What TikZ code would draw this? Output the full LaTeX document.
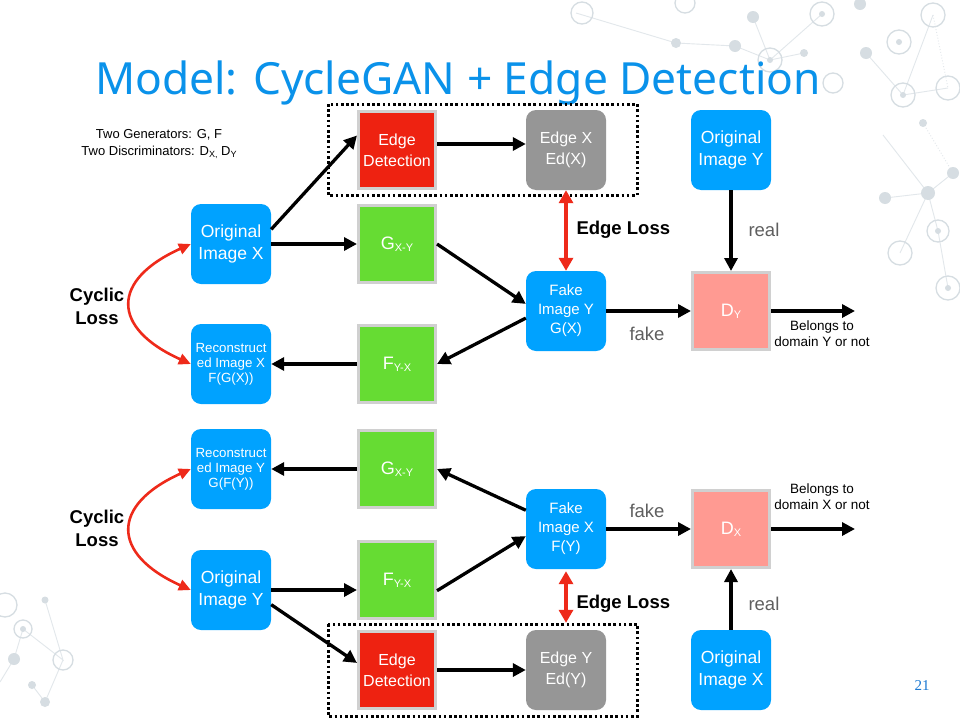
\documentclass[tikz,border=0pt]{standalone}
\usepackage{fontspec}
\setmainfont{Liberation Sans}
\newfontfamily\titlefont{Noto Sans}
\newfontfamily\numfont{Liberation Serif}
\usetikzlibrary{arrows.meta, positioning, calc}

\definecolor{imgblue}{RGB}{0,162,255}
\definecolor{titleblue}{RGB}{10,146,234}
\definecolor{gengreen}{RGB}{102,220,51}
\definecolor{discpink}{RGB}{255,154,146}
\definecolor{edgered}{RGB}{238,34,17}
\definecolor{edgegrey}{RGB}{150,150,150}
\definecolor{boxgrey}{RGB}{208,208,208}
\definecolor{lossred}{RGB}{238,42,26}
\definecolor{lblgrey}{RGB}{95,95,95}
\definecolor{numblue}{RGB}{26,120,210}
\definecolor{decor}{RGB}{214,221,226}

\newcommand{\lowsub}[2][11]{\raisebox{-0.12em}{\fontsize{#1}{#1}\selectfont #2}}

\begin{document}
\begin{tikzpicture}[x=1pt, y=-1pt]
    \tikzset{
      imgbox/.style={rectangle, rounded corners=10pt, fill=imgblue, text=white,
        minimum width=80pt, minimum height=80pt, align=center, inner sep=1pt},
      genbox/.style={rectangle, draw=boxgrey, line width=3pt, fill=gengreen, text=white,
        minimum size=77pt, align=center, font=\fontsize{18}{18}\selectfont},
      discbox/.style={genbox, fill=discpink},
      edgebox/.style={genbox, fill=edgered, font=\fontsize{16}{21}\selectfont},
      edgeimg/.style={imgbox, fill=edgegrey, font=\fontsize{16}{21}\selectfont},
      arrow/.style={line width=3.3pt, -{Triangle[length=13pt, width=13pt]}},
      lossarrow/.style={line width=3.3pt, draw=lossred,
        {Triangle[length=13pt, width=14pt]}-{Triangle[length=13pt, width=14pt]}},
      cyclearrow/.style={line width=2.6pt, draw=lossred,
        {Triangle[length=12pt, width=11pt]}-{Triangle[length=12pt, width=11pt]}},
      frame/.style={line width=3pt, dash pattern=on 2.6pt off 2.6pt},
      lbl/.style={text=lblgrey, font=\fontsize{18.5}{18.5}\selectfont},
      losslbl/.style={align=center, font=\bfseries\fontsize{18.5}{23}\selectfont},
      note/.style={align=center, font=\fontsize{13.5}{16}\selectfont},
      ring/.style={draw=decor, line width=1.3pt},
      link/.style={draw=decor!70, line width=0.9pt}
    }
    \useasboundingbox[fill=white] (0,0) rectangle (960,720);

    % background network
    \draw[link] (576,13) -- (676,43) -- (735,46) -- (770,60) -- (822,14);
    \draw[link] (753,17) -- (770,60) -- (804,53);
    \draw[link] (866,53) -- (903,95) -- (948,88);
    \draw[link] (933,15) -- (903,95);
    \draw[link, dotted] (933,15) -- (948,88);
    \draw[link, dotted] (923,123) -- (953,173);
    \draw[link] (885,198) -- (928,193) -- (953,173);
    \draw[link] (900,253) -- (928,193) -- (938,231) -- (948,288);
    \draw[link] (883,135) -- (928,193);
    \draw[link] (45,600) -- (63,660) -- (23,629) -- (14,659) -- (0,682);
    \draw[link] (63,660) -- (45,702) -- (32,685);
    \foreach \cx/\cy/\r in {676/43/5, 735/46/6, 753/17/6, 804/53/4, 866/53/6, 860/4/6,
        923/123/4, 928/193/7, 953/173/6, 885/198/6, 14/659/6, 45/600/3.5, 32/685/4, 45/702/5}
      \fill[decor] (\cx,\cy) circle (\r);
    \foreach \cx/\cy/\r in {582/13/11, 685/3/10, 770/60/12, 822/14/12, 833/83/10, 899/42/12,
        933/15/12, 903/95/12, 948/88/12, 900/253/12, 938/231/11, 948/288/12, 5/605/12, 23/629/9, 63/660/10}
      \draw[ring] (\cx,\cy) circle (\r);
    \foreach \cx/\cy in {770/60, 822/14, 899/42, 903/95, 938/231, 948/288, 23/629}
      \fill[decor] (\cx,\cy) circle (3);

    % title and notes
    \node[anchor=base west, inner sep=0pt, text=titleblue,
      font=\titlefont\fontsize{44.3}{44.3}\selectfont] (title) at (95,94) {Model: CycleGAN + Edge Detection};
    \node[note, font=\fontsize{13}{17}\selectfont] (gens) at (159,144)
      {Two Generators: G, F\\Two Discriminators: D\lowsub[9]{X,} D\lowsub[9]{Y}};
    \node[text=numblue, font=\numfont\fontsize{15}{15}\selectfont] (page) at (922,686) {21};

    % upper cycle: X -> Y -> X
    \node[edgebox] (ed1) at (397,150) {Edge\\Detection};
    \node[edgeimg] (ex) at (566,150) {Edge X\\Ed(X)};
    \node[imgbox, font=\fontsize{17.5}{22}\selectfont] (oy1) at (731,150) {Original\\Image Y};
    \node[imgbox, font=\fontsize{17.5}{22}\selectfont] (ox1) at (231,244) {Original\\Image X};
    \node[genbox] (g1) at (397,244) {G\lowsub{X-Y}};
    \node[imgbox, font=\fontsize{15}{19}\selectfont] (fy) at (566,311) {Fake\\Image Y\\G(X)};
    \node[discbox] (dy) at (731,311) {D\lowsub{Y}};
    \node[imgbox, font=\fontsize{13.3}{15}\selectfont] (rx) at (231,364) {Reconstruct\\ed Image X\\F(G(X))};
    \node[genbox] (f1) at (397,364) {F\lowsub{Y-X}};
    \coordinate (out1) at (855,311);

    \draw[frame] ($(ed1.north west)+(-29,-6)$) rectangle ($(ex.south east)+(31,5)$);
    \draw[arrow] (ox1.20) -- (ed1.160);
    \draw[arrow] (ox1.east) -- (g1.west);
    \draw[arrow] ([yshift=6pt]ed1.east) -- ([yshift=6pt]ex.west);
    \draw[arrow] (g1.east) -- (fy.170);
    \draw[arrow] (fy.190) -- (f1.east);
    \draw[arrow] (f1.west) -- (rx.east);
    \draw[arrow] (oy1.south) -- (dy.north);
    \draw[arrow] (fy.east) -- (dy.west);
    \draw[arrow] (dy.east) -- (out1);
    \draw[lossarrow] (ex.south) -- (fy.north);
    \draw[cyclearrow] (ox1.west) .. controls +(-80,36) and +(-80,-36) .. (rx.west);

    \node[losslbl, anchor=west] (eloss1) at (573,230) {Edge Loss};
    \node[lbl, anchor=west] (real1) at (745,230) {real};
    \node[lbl] (fake1) at (647,334) {fake};
    \node[note] (res1) at (822,334) {Belongs to\\domain Y or not};
    \node[losslbl] (cyc1) at (97,306) {Cyclic\\Loss};

    % lower cycle: Y -> X -> Y
    \node[imgbox, font=\fontsize{13.3}{15}\selectfont] (ry) at (231,469) {Reconstruct\\ed Image Y\\G(F(Y))};
    \node[genbox] (g2) at (397,469) {G\lowsub{X-Y}};
    \node[imgbox, font=\fontsize{15}{19}\selectfont] (fx) at (566,529) {Fake\\Image X\\F(Y)};
    \node[discbox] (dx) at (731,529) {D\lowsub{X}};
    \node[imgbox, font=\fontsize{17.5}{22}\selectfont] (oy2) at (231,590) {Original\\Image Y};
    \node[genbox] (f2) at (397,580) {F\lowsub{Y-X}};
    \node[edgebox] (ed2) at (397,670) {Edge\\Detection};
    \node[edgeimg] (ey) at (566,670) {Edge Y\\Ed(Y)};
    \node[imgbox, font=\fontsize{17.5}{22}\selectfont] (ox2) at (731,670) {Original\\Image X};
    \coordinate (out2) at (855,529);

    \draw[frame] ($(ed2.north west)+(-29,-6)$) rectangle ($(ey.south east)+(31,6)$);
    \draw[arrow] (g2.west) -- (ry.east);
    \draw[arrow] (fx.155) -- (g2.east);
    \draw[arrow] (f2.-15) -- (fx.190);
    \draw[arrow] (oy2.east) -- (oy2.east -| f2.west);
    \draw[arrow] (oy2.-20) -- (ed2.170);
    \draw[arrow] (ed2.east) -- (ey.west);
    \draw[arrow] (ox2.north) -- (dx.south);
    \draw[arrow] (fx.east) -- (dx.west);
    \draw[arrow] (dx.east) -- (out2);
    \draw[lossarrow, shorten >=7pt, shorten <=2pt] (fx.south) -- (ey.north);
    \draw[cyclearrow] (ry.west) .. controls +(-80,36) and +(-80,-36) .. (oy2.west);

    \node[losslbl, anchor=west] (eloss2) at (573,604) {Edge Loss};
    \node[lbl, anchor=west] (real2) at (745,604) {real};
    \node[lbl] (fake2) at (647,511) {fake};
    \node[note] (res2) at (822,497) {Belongs to\\domain X or not};
    \node[losslbl] (cyc2) at (97,528) {Cyclic\\Loss};
\end{tikzpicture}
\end{document}
